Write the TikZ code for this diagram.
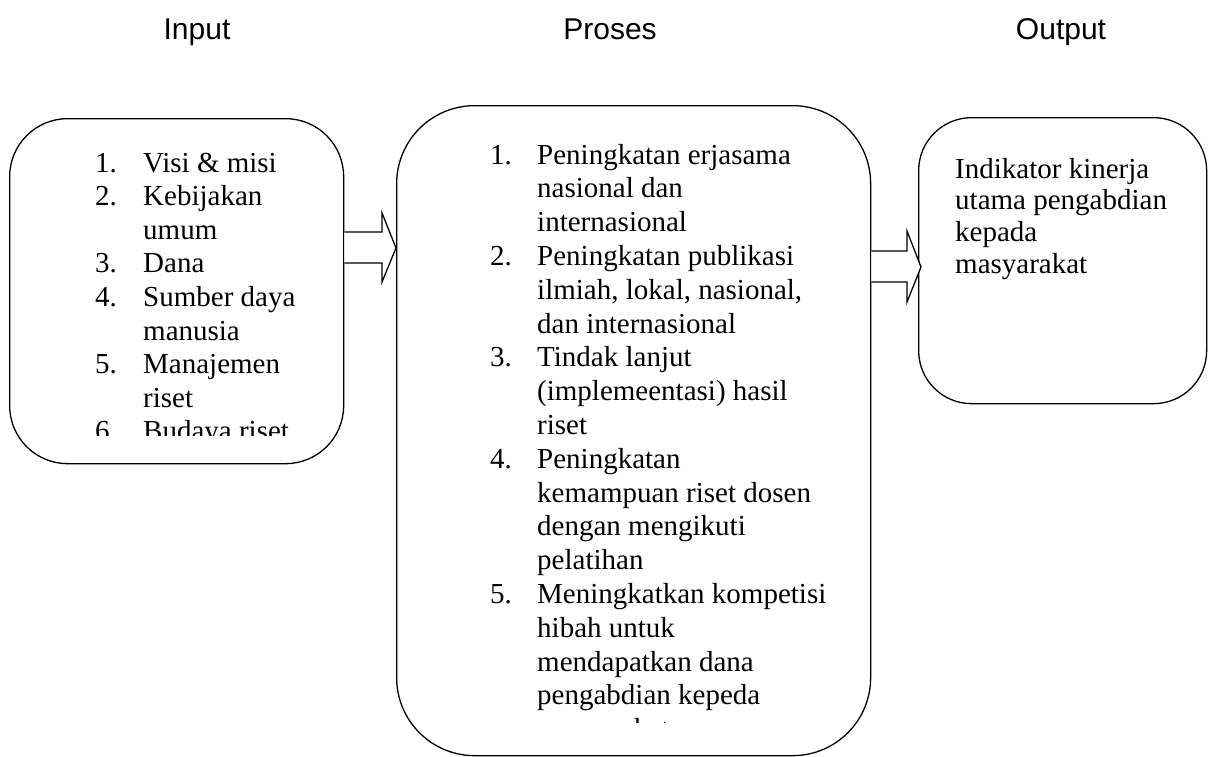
\documentclass[tikz,border=0pt]{standalone}
\usepackage{fontspec}
\setmainfont{Liberation Serif}
\newfontfamily\titlefont{Liberation Sans}
\begin{document}
\begin{tikzpicture}[x=1pt,y=-1pt,
  boxline/.style={draw, line width=1.3pt, inner sep=0pt, anchor=north west},
  txt/.style={anchor=base west, inner sep=0pt, font=\fontsize{29}{33.8}\selectfont},
  ttl/.style={anchor=base, inner sep=0pt, font=\titlefont\fontsize{30}{36}\selectfont},
  blockarrow/.style={draw, line width=1.3pt, line join=miter, fill=white}]
\useasboundingbox (0,0) rectangle (1208,756);
% titles
\node[ttl] (tin) at (197,39) {Input};
\node[ttl] (tpr) at (610,39) {Proses};
\node[ttl] (tout) at (1061,39) {Output};
% boxes
\node[boxline, rounded corners=58pt, minimum width=334pt, minimum height=345pt] (inp) at (9,118) {};
\node[boxline, rounded corners=78pt, minimum width=474pt, minimum height=650pt] (pro) at (396,105) {};
\node[boxline, rounded corners=53pt, minimum width=288pt, minimum height=286pt] (out) at (918,117) {};
% arrows
\draw[blockarrow] (inp.east |- 0,232) -- (382,232) -- (382,213) -- (pro.west |- 0,248) -- (382,282) -- (382,263) -- (inp.east |- 0,263);
\draw[blockarrow] (pro.east |- 0,251) -- (907,251) -- (907,231) -- (921,267) -- (907,302) -- (907,282) -- (pro.east |- 0,282);
% input text
\begin{scope}
\clip (0,0) rectangle (1208,435);
\foreach \i/\n in {0/1,1/2,3/3,4/4,6/5,8/6} \node[txt] (ln\n) at (95,172+\i*33.6) {\n.};
\foreach \i/\t in {0/{Visi \& misi},1/{Kebijakan},2/{umum},3/{Dana},4/{Sumber daya},5/{manusia},6/{Manajemen},7/{riset},8/{Budaya riset}}
  \node[txt] (lt\i) at (143,172+\i*33.6) {\t};
\end{scope}
% proses text
\begin{scope}
\clip (0,0) rectangle (1208,722);
\foreach \i/\n in {0/1,3/2,6/3,9/4,13/5} \node[txt] (mn\n) at (490,164+\i*33.8) {\n.};
\foreach \i/\t in {0/{Peningkatan erjasama},1/{nasional dan},2/{internasional},
  3/{Peningkatan publikasi},4/{ilmiah, lokal, nasional,},5/{dan internasional},
  6/{Tindak lanjut},7/{(implemeentasi) hasil},8/{riset},
  9/{Peningkatan},10/{kemampuan riset dosen},11/{dengan mengikuti},12/{pelatihan},
  13/{Meningkatkan kompetisi},14/{hibah untuk},15/{mendapatkan dana},16/{pengabdian kepeda},17/{masyarakat}}
  \node[txt] (mt\i) at (537,164+\i*33.8) {\t};
\end{scope}
% output text
\foreach \i/\t in {0/{Indikator kinerja},1/{utama pengabdian},2/{kepada},3/{masyarakat}}
  \node[txt] (ot\i) at (955,178+\i*31.7) {\t};
\end{tikzpicture}
\end{document}
